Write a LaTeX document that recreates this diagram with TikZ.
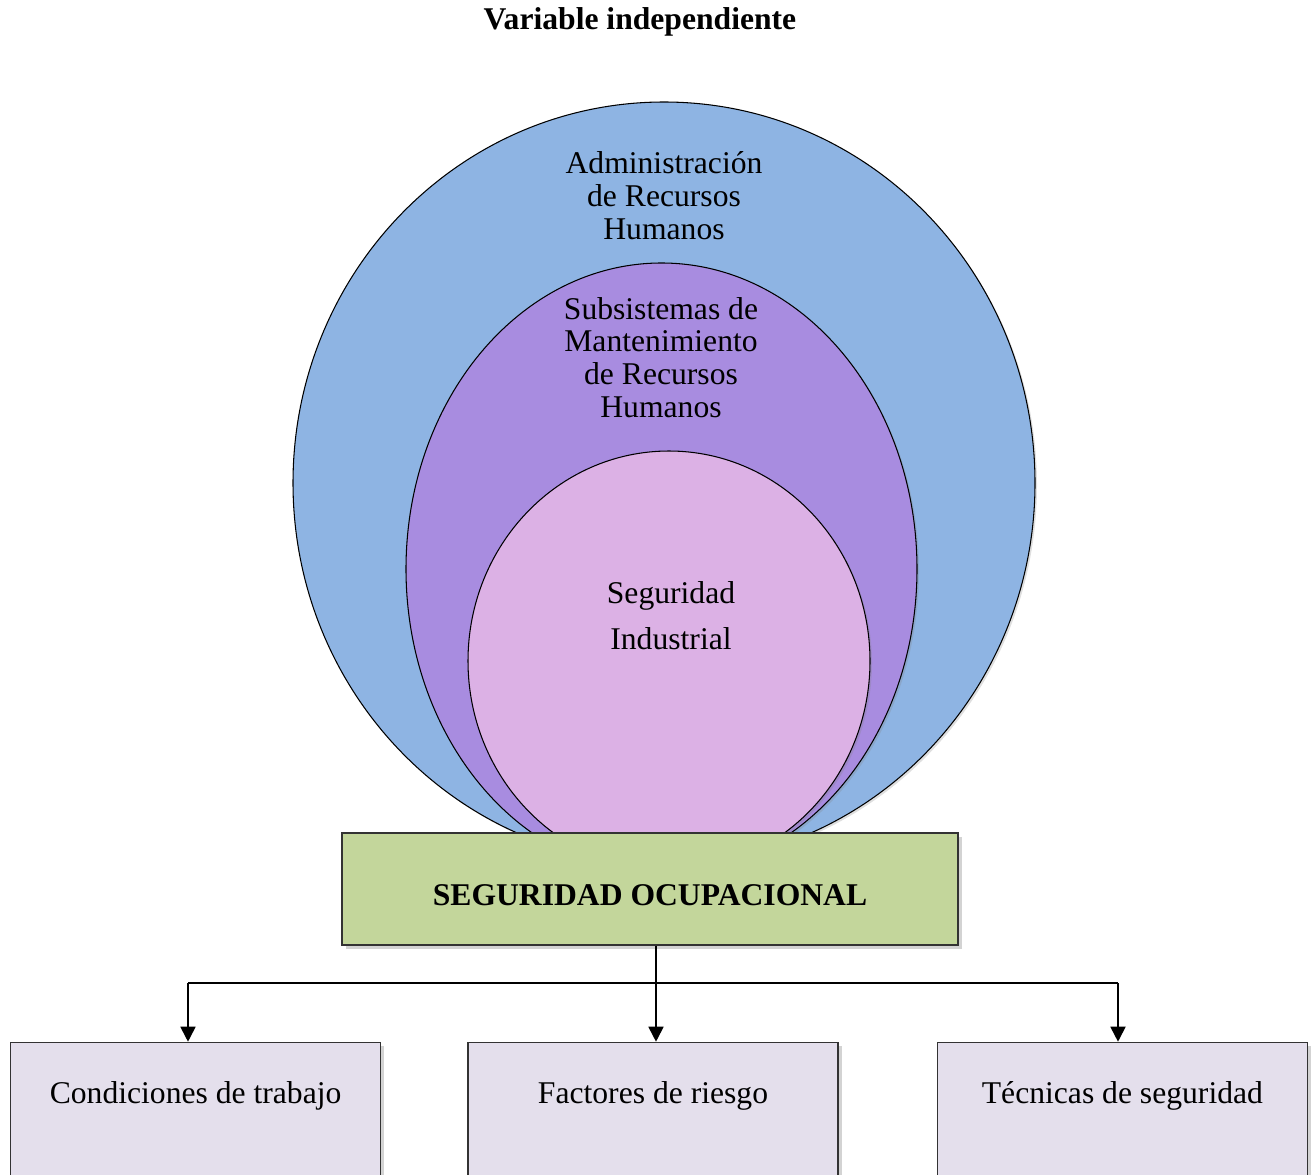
\documentclass[tikz,border=0pt]{standalone}
\usepackage{fontspec}
\setmainfont{Liberation Serif}
\usepackage{xcolor}
\usepackage{tikz}
\usetikzlibrary{positioning,shapes.geometric,shadows,arrows.meta}

\definecolor{adminblue}{HTML}{8EB4E3}
\definecolor{subpurple}{HTML}{A88CE0}
\definecolor{segpink}{HTML}{DCB1E5}
\definecolor{ocupgreen}{HTML}{C3D69B}
\definecolor{temalila}{HTML}{E4DFEC}

\begin{document}
\begin{tikzpicture}[
    set/.style={ellipse, draw, line width=0.6pt, inner sep=0pt,
        drop shadow={shadow xshift=0.04cm, shadow yshift=-0.04cm, opacity=0.25}},
    settext/.style={align=center, font=\fontsize{18}{18.7}\selectfont},
    title/.style={font=\fontsize{18}{18.7}\selectfont\bfseries},
    mainbox/.style={rectangle, draw=black!80, line width=0.8pt, fill=ocupgreen,
        minimum width=12.32cm, minimum height=2.24cm, text height=0.66cm, text depth=0pt,
        font=\fontsize{18}{18.7}\selectfont\bfseries,
        drop shadow={shadow xshift=0.07cm, shadow yshift=-0.07cm, opacity=0.35}},
    topic/.style={rectangle, draw=black!80, line width=0.8pt, fill=temalila,
        minimum width=7.4cm, inner ysep=0pt, text height=1.22cm, text depth=2.3cm,
        font=\fontsize{18}{18.7}\selectfont,
        drop shadow={shadow xshift=0.07cm, shadow yshift=-0.07cm, opacity=0.35}},
    link/.style={-{Triangle[width=0.3cm, length=0.3cm]}, line width=1pt},
    branch/.style={line width=1pt}
]

\useasboundingbox (0,0) rectangle (26.3,-23.5);

% Title
\node[title] (titulo) at (12.8,-0.44) {Variable independiente};

% Nested sets
\node[set, fill=adminblue, minimum width=14.84cm, minimum height=15.24cm] (admin) at (13.28,-9.66) {};
\node[set, fill=subpurple, minimum width=10.22cm, minimum height=12.24cm] (subsis) at (13.23,-11.38) {};
\node[set, fill=segpink, minimum width=8.04cm, minimum height=8.4cm] (segind) at (13.38,-13.22) {};

\node[settext] (admintext) at (13.28,-3.92) {Administración\\de Recursos\\Humanos};
\node[settext] (subsistext) at (13.22,-7.15) {Subsistemas de\\Mantenimiento\\de Recursos\\Humanos};
\node[settext, font=\fontsize{18}{26}\selectfont] (segindtext) at (13.42,-12.32) {Seguridad\\Industrial};

% Main box
\node[mainbox] (ocup) at (13.0,-17.78) {SEGURIDAD OCUPACIONAL};

% Dimensions
\node[topic, below=1.92cm of ocup, xshift=0.06cm] (factores) {Factores de riesgo};
\node[topic, left=1.72cm of factores] (condiciones) {Condiciones de trabajo};
\node[topic, right=1.96cm of factores] (tecnicas) {Técnicas de seguridad};

% Flows
\coordinate (split) at (13.12,-19.66);
\coordinate (splitL) at (3.76,-19.66);
\coordinate (splitR) at (22.36,-19.66);
\draw[link] (split |- ocup.south) -- (split |- factores.north);
\draw[branch] (splitL) -- (splitR);
\draw[link] (splitL) -- (splitL |- condiciones.north);
\draw[link] (splitR) -- (splitR |- tecnicas.north);

\end{tikzpicture}
\end{document}
